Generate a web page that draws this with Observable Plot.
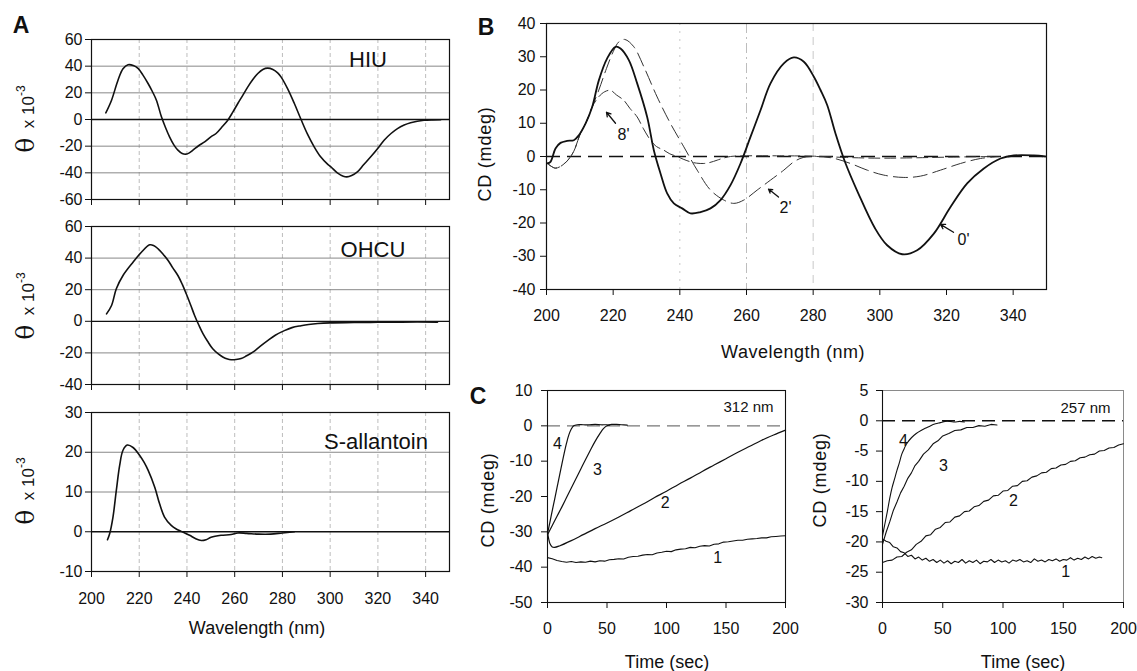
<!DOCTYPE html>
<html><head><meta charset="utf-8">
<script src="https://cdn.jsdelivr.net/npm/d3@7"></script>
<script src="https://cdn.jsdelivr.net/npm/@observablehq/plot@0.6"></script>
<style>
body{margin:0;background:#fff;}
#fig{position:relative;width:1137px;height:671px;overflow:hidden;font-family:"Liberation Sans",Arial,Helvetica,sans-serif;color:#111;background:#fff;}
.lbl{position:absolute;white-space:nowrap;line-height:1;transform:translate(-50%,-50%);}
.rot{transform:translate(-50%,-50%) rotate(-90deg);}
#fig svg{position:absolute;}
</style></head><body><div id="fig"></div>
<script>
// ---------- DATA ----------
// Panel A (molar ellipticity x 10^-3 vs wavelength)
const hiuWl = [206,208.4,211.1,213.2,215.3,217.5,219.5,221.5,223.7,225.5,227.2,229.3,231,232.7,234.5,236.2,238,239.5,241,242.5,245,247.4,250,252.2,254.5,257.1,259.2,261.3,263.5,265.5,267.6,269.7,271.8,273.8,276,278,279.4,282.2,285,287.8,290.5,293.3,296,298.9,300.3,303,305.5,307,309,311.4,314,317,320,322.6,325.5,328.2,331,333.7,336.5,339.3,343,346.3];
const hiuTheta = [5,14.5,29.5,38,41,40.5,38.3,33.5,27,21,14.5,2,-6,-13,-19,-23,-25.5,-26,-25,-23,-19.5,-16.8,-13,-10.5,-6,-0.5,5.5,12,18.5,24.5,30,34.5,37.5,38.5,37.5,35,32,23,12,0,-11,-20.5,-28,-33.5,-35.5,-40,-42.5,-43,-42,-39.3,-34,-28,-21.5,-15.5,-10.5,-6.8,-4.2,-2.5,-1.3,-0.6,-0.3,-0.2];
const ohcuWl = [206.3,208.4,210.4,213.2,217.4,220.9,224.4,226,227.9,230,232.1,234,236.2,238,239.7,241.5,243.2,245,246.7,248.7,250.8,253,255,257,258.5,260.5,262.7,265,267.6,270.5,273.8,277,280.8,284,287.8,291,294.8,300,310,320,330,345];
const ohcuTheta = [4.7,10,20.6,29,37.4,43.7,48.4,48,45.9,42.5,38.5,34,29,23.5,17.4,10.5,3.7,-2.5,-7.8,-12.8,-17.4,-20.5,-22.6,-23.9,-24.3,-24.2,-23.6,-21.8,-19.5,-16,-12.2,-8.8,-5.9,-4,-2.8,-2,-1.4,-1,-0.8,-0.6,-0.5,-0.5];
const sallWl = [206.7,207.6,209,210.4,211.8,213.2,215,217.4,220.2,222,223.7,226.5,228.5,230.6,233.4,235.5,237.6,241.1,243.5,246,248,250.1,254.3,258.5,261.3,265,270,275,280,285];
const sallTheta = [-2,-0.5,3.7,10.4,16.7,20.5,21.8,21.2,19.2,17.5,15.5,11.2,7.1,3.7,1.6,0.7,0.1,-0.9,-1.7,-2.2,-2,-1.4,-0.9,-0.7,-0.3,-0.4,-0.6,-0.6,-0.3,0];
const wlTicks = [200,220,240,260,280,300,320,340];
const hiuTicks = [-60,-40,-20,0,20,40,60];
const ohcuTicks = [-40,-20,0,20,40,60];
const sallTicks = [-10,0,10,20,30];
const panelANames = ["HIU","OHCU","S-allantoin"];

// Panel B (CD spectra at 0', 2', 8')
const b0Wl = [200.2,201.2,202.7,204.2,206.2,208.2,209.7,211.7,213.7,215.7,218.2,220.7,222.2,224.7,227.2,230.2,232.2,234.2,236.2,238.2,240.7,243.2,246.2,249.2,252.2,255.2,258.2,261.2,264.2,267.2,271.2,274.2,277.2,280.2,282.2,284.2,286.7,289.5,293.5,298.5,302.2,306.7,311.2,316.2,321.2,326.2,331.2,336.2,340.2,346.2,349.7];
const b0Cd = [-2.1,-1.6,2.4,4.1,4.7,4.9,6.4,9.9,14.9,22.9,29.5,33,32.5,29,22,11.9,1.9,-5.1,-11.1,-14.1,-15.6,-17.1,-16.7,-15.6,-13.1,-8.6,-2.1,5.9,13.9,22,28,29.8,28.5,24,20,15.5,6.9,-1.5,-11,-21.5,-26.7,-29.4,-28.2,-23.2,-15.2,-8.1,-3.6,-0.6,0.3,0.3,0];
const b2Wl = [200.2,201.5,202.7,204.2,205.5,206.5,208.2,210.2,212,213.7,215.7,218,220,221.7,223.5,226.2,229.2,233.2,237.2,241.2,245.2,249.2,253.2,256.2,259.2,263.2,267.2,271.2,274.2,277,281,286,291.2,296.2,301.2,307.2,312.2,318.2,324.2,330.2,336];
const b2Cd = [-2,-3,-3.5,-3,-2,-1,1.6,7,10.5,14.9,20,26.5,31.5,34.5,35.2,33,27,17.9,9.9,2.9,-4.1,-10.1,-13.1,-14.1,-13.1,-10.1,-7.1,-4.1,-1.6,-0.3,0,-0.5,-2.1,-4.1,-5.6,-6.3,-5.9,-4.1,-2.1,-0.6,0];
const b8Wl = [200.2,201.5,202.7,204.2,205.5,206.5,208.2,210.2,212,213.7,215.7,217.5,219.2,221,223.2,225,227.2,229,231.2,233,235.2,237,239.2,241,243.2,245,247.2,249,251.2,253,255.2,260,270,280,290,300,310,320,335];
const b8Cd = [-2,-3,-3.5,-3,-2,-1,1.6,7,10.5,14.9,18,19.5,19.9,18.5,16.9,14.5,11.9,8.5,4.9,3,1.9,0.8,0,-0.8,-1.6,-2,-2.1,-1.8,-1.1,-0.5,0,0.2,0.2,0.1,-0.3,-0.5,-0.4,-0.2,0];
const cdTicksB = [-40,-30,-20,-10,0,10,20,30,40];
const bLabels = ["8'","2'","0'"];
const bLabelWl = [223.1,271.7,325.1];
const bLabelCd = [6.4,-15.5,-25.2];
const bArrowFromWl = [220.7,269.6,322.1];
const bArrowFromCd = [10,-12.2,-22.8];
const bArrowToWl = [218,266.6,318.2];
const bArrowToCd = [13.3,-9.8,-20.4];

// Panel C left (312 nm kinetics)
const l4T = [0,2,4,6,8,10,12,14,16,18,20,22,25,30,35,40,45,50,52];
const l4Cd = [-30.5,-27.3,-24,-20.8,-17.5,-14.2,-11,-7.8,-4.9,-2.5,-0.9,0,0.3,0.3,0.3,0.4,0.3,0.3,0.2];
const l3T = [0,4,8,12,16,20,24,28,32,36,40,44,47,50,54,58,62,67];
const l3Cd = [-30.8,-28.2,-25.6,-23,-20.3,-17.6,-14.9,-12.2,-9.5,-6.9,-4.4,-2.2,-0.8,0,0.4,0.4,0.3,0.2];
const l2T = [0,1,2,4,6,10,20,30,40,50,60,70,80,90,100,110,120,130,140,150,160,170,180,190,200];
const l2Cd = [-30,-32,-33.3,-34.3,-34.4,-34,-32.5,-30.8,-29.1,-27.5,-25.8,-24,-22.2,-20.3,-18.5,-16.6,-14.8,-12.9,-11.1,-9.3,-7.5,-5.8,-4.1,-2.6,-1.2];
const l1T = [0,4,8,12,16,20,24,28,32,36,40,44,48,52,56,60,64,68,72,76,80,84,88,92,96,100,104,108,112,116,120,124,128,132,136,140,144,148,152,156,160,164,168,172,176,180,184,188,192,196,200];
const l1Cd = [-37.3,-37.6,-38.1,-38.4,-38.6,-38.4,-38.7,-38.5,-38.6,-38.3,-38.5,-38.2,-38.3,-37.9,-37.8,-37.6,-37.7,-37.2,-37,-36.9,-36.6,-36.4,-36.5,-36,-35.8,-35.5,-35.6,-35.1,-34.9,-34.8,-34.4,-34.5,-34.1,-33.9,-34,-33.5,-33.4,-32.9,-32.8,-32.6,-32.4,-32.4,-32.1,-32,-31.9,-31.7,-31.7,-31.4,-31.3,-31.2,-31.1];
const cTicksL = [-50,-40,-30,-20,-10,0,10];
const cLabelsL = ["4","3","2","1"];
const cLabelLT = [8.4,42,99,143];
const cLabelLCd = [-5,-12.6,-21.7,-37.5];

// Panel C right (257 nm kinetics)
const r4T = [0,2,4,6,8,10,12,14,16,18,20,24,28,32,36,40,44,48,52,56,60,64,68];
const r4Cd = [-19,-17,-15,-12.8,-11,-9.6,-8.2,-6.9,-5.5,-4.6,-3.8,-2.8,-2.1,-1.6,-1.2,-0.8,-0.5,-0.3,-0.1,-0.1,-0.2,-0.1,-0.2];
const r3T = [0,3,6,9,12,15,18,21,24,27,30,34,38,42,46,50,55,60,65,70,75,80,85,90,95];
const r3Cd = [-20.4,-18.4,-16.7,-14.8,-13.4,-11.9,-10.8,-9.5,-8.6,-7.4,-6.7,-5.5,-4.8,-3.8,-3.3,-2.5,-2.1,-1.6,-1.5,-1.1,-1.1,-0.8,-0.9,-0.6,-0.7];
const r2T = [0,4,8,12,16,20,24,28,32,36,40,44,48,52,56,60,64,68,72,76,80,84,88,92,96,100,104,108,112,116,120,124,128,132,136,140,144,148,152,156,160,164,168,172,176,180,184,188,192,196,200];
const r2Cd = [-23.4,-23.1,-23,-22.5,-22.4,-21.7,-21.3,-20.4,-19.9,-19,-18.8,-17.9,-17.6,-16.8,-16.7,-15.9,-15.7,-15,-14.9,-14.2,-14,-13.3,-13.1,-12.4,-12.3,-11.6,-11.5,-10.8,-10.7,-10,-9.9,-9.3,-9.1,-8.6,-8.5,-7.9,-7.8,-7.3,-7.2,-6.7,-6.6,-6.1,-6,-5.6,-5.5,-5,-4.9,-4.5,-4.4,-4,-3.8];
const r1T = [0,3,6,9,12,15,18,21,24,27,30,33,36,39,42,45,48,51,54,57,60,63,66,69,72,75,78,81,84,87,90,93,96,99,102,105,108,111,114,117,120,123,126,129,132,135,138,141,144,147,150,153,156,159,162,165,168,171,174,177,180,182];
const r1Cd = [-19.5,-19.9,-20.1,-20.8,-21,-21.6,-21.8,-22.4,-22.2,-22.8,-22.5,-23,-22.7,-23.2,-22.9,-23.4,-23,-23.5,-23.1,-23.6,-23.2,-23.4,-22.9,-23.5,-23.1,-23.4,-23,-23.6,-23.2,-23.3,-22.9,-23.4,-23,-23.3,-23.1,-23.5,-23,-23.2,-22.9,-23.3,-23.1,-23.4,-22.8,-23.2,-23,-23.3,-22.9,-23.1,-22.8,-23.2,-22.9,-23,-22.6,-23,-22.7,-22.9,-22.5,-22.8,-22.4,-22.7,-22.5,-22.6];
const cTicksR = [-30,-25,-20,-15,-10,-5,0,5];
const cLabelsR = ["4","3","2","1"];
const cLabelRT = [17.4,50.6,108.7,152];
const cLabelRCd = [-3.3,-7.4,-13.2,-25];
const timeTicks = [0,50,100,150,200];

// ---------- DRAWING ----------
const fig = document.getElementById("fig");
const FONT = '"Liberation Sans", Arial, Helvetica, sans-serif';
const ML = 60, MR = 12, MT = 12, MB = 50;
const pts = (xs, ys) => xs.map((x, i) => ({x, y: ys[i]}));
const fmt = d => String(d);

function place(fx, fy, fw, fh, opts) {
  const p = Plot.plot({
    width: fw + ML + MR, height: fh + MT + MB,
    marginLeft: ML, marginRight: MR, marginTop: MT, marginBottom: MB,
    ...opts
  });
  p.style.left = (fx - ML) + "px";
  p.style.top = (fy - MT) + "px";
  p.style.background = "transparent";
  p.style.maxWidth = "none";
  p.style.overflow = "visible";
  p.style.fontFamily = FONT;
  p.style.fontSize = "16px";
  p.style.color = "#111";
  fig.appendChild(p);
  return p;
}
function label(html, x, y, css = "", rot = false) {
  const d = document.createElement("div");
  d.className = "lbl" + (rot ? " rot" : "");
  d.style.cssText = `left:${x}px;top:${y}px;` + css;
  d.innerHTML = html;
  fig.appendChild(d);
}

// Panel A
const aFrames = [[39, 160], [226, 158], [412, 159]];
const aTicks = [hiuTicks, ohcuTicks, sallTicks];
const aDomains = [[-60, 60], [-40, 60], [-10, 30]];
const aData = [pts(hiuWl, hiuTheta), pts(ohcuWl, ohcuTheta), pts(sallWl, sallTheta)];
aFrames.forEach(([fy, fh], i) => {
  const last = i === 2;
  place(91, fy, 358, fh, {
    x: {domain: [200, 350]},
    y: {domain: aDomains[i]},
    marks: [
      Plot.ruleX(wlTicks.slice(1), {stroke: "#b5b5b5", strokeDasharray: "4,3", strokeWidth: 0.9}),
      Plot.ruleY(aTicks[i].filter(v => v !== 0), {stroke: "#7a7a7a", strokeWidth: 0.9}),
      Plot.ruleY([0], {stroke: "#111", strokeWidth: 1.3}),
      Plot.frame({stroke: "#111", strokeWidth: 1.2}),
      Plot.axisY(aTicks[i], {tickSize: 6, tickPadding: 3, tickFormat: fmt, label: null}),
      Plot.axisX(wlTicks, {tickSize: 6, tickPadding: 15, tickFormat: last ? fmt : () => "", label: null}),
      Plot.line(aData[i], {x: "x", y: "y", curve: "catmull-rom", stroke: "#111", strokeWidth: 1.6})
    ]
  });
});
const aNamePos = [[368, 60], [373, 250], [376, 442]];
panelANames.forEach((n, i) => label(n, aNamePos[i][0], aNamePos[i][1], "font-size:22px;"));
const thetaLbl = '<span style="font-size:25px;font-family:\'DejaVu Serif\',serif;">&#952;</span>&nbsp; x 10<sup style="font-size:12px;position:relative;top:-2px;">-3</sup>';
[119, 306, 491].forEach(y => label(thetaLbl, 25, y, "font-size:17px;", true));
label("Wavelength (nm)", 257, 628, "font-size:18px;");
label("A", 21, 25, "font-size:23px;font-weight:bold;");

// Panel B
place(546, 23, 500, 266, {
  x: {domain: [200, 350]},
  y: {domain: [-40, 40]},
  marks: [
    Plot.ruleX([240], {stroke: "#c8c8c8", strokeDasharray: "2,6"}),
    Plot.ruleX([260], {stroke: "#bdbdbd", strokeDasharray: "10,4,2,4"}),
    Plot.ruleX([280], {stroke: "#c8c8c8", strokeDasharray: "8,6"}),
    Plot.ruleY([0], {stroke: "#111", strokeDasharray: "14,7", strokeWidth: 1.5}),
    Plot.frame({stroke: "#111", strokeWidth: 1.2}),
    Plot.axisY(cdTicksB, {tickSize: 6, tickPadding: 5, tickFormat: fmt, label: null}),
    Plot.axisX(wlTicks, {tickSize: 6, tickPadding: 14, tickFormat: fmt, label: null}),
    Plot.line(pts(b8Wl, b8Cd), {x: "x", y: "y", curve: "catmull-rom", stroke: "#333", strokeWidth: 1, strokeDasharray: "11,5"}),
    Plot.line(pts(b2Wl, b2Cd), {x: "x", y: "y", curve: "catmull-rom", stroke: "#333", strokeWidth: 1, strokeDasharray: "14,6"}),
    Plot.line(pts(b0Wl, b0Cd), {x: "x", y: "y", curve: "catmull-rom", stroke: "#111", strokeWidth: 1.8}),
    Plot.arrow(bLabels.map((l, i) => i), {x1: i => bArrowFromWl[i], y1: i => bArrowFromCd[i], x2: i => bArrowToWl[i], y2: i => bArrowToCd[i], stroke: "#111", strokeWidth: 1.3, headLength: 7}),
    Plot.text(bLabels.map((l, i) => i), {x: i => bLabelWl[i], y: i => bLabelCd[i], text: i => bLabels[i], fontSize: 16, fill: "#111"})
  ]
});
label("CD (mdeg)", 485, 154, "font-size:18px;letter-spacing:0.8px;", true);
label("Wavelength (nm)", 793, 352, "font-size:18px;letter-spacing:0.5px;");
label("B", 486, 27, "font-size:23px;font-weight:bold;");

// Panel C left
place(547, 390, 238, 212, {
  x: {domain: [0, 200]},
  y: {domain: [-50, 10]},
  marks: [
    Plot.ruleY([0], {stroke: "#777", strokeDasharray: "13,7", strokeWidth: 1.3}),
    Plot.frame({stroke: "#111", strokeWidth: 1.1}),
    Plot.axisY(cTicksL, {tickSize: 6, tickPadding: 9, tickFormat: fmt, label: null}),
    Plot.axisX(timeTicks, {tickSize: 6, tickPadding: 14, tickFormat: fmt, label: null}),
    Plot.line(pts(l1T, l1Cd), {x: "x", y: "y", stroke: "#111", strokeWidth: 1.1}),
    Plot.line(pts(l2T, l2Cd), {x: "x", y: "y", curve: "catmull-rom", stroke: "#111", strokeWidth: 1.2}),
    Plot.line(pts(l3T, l3Cd), {x: "x", y: "y", curve: "catmull-rom", stroke: "#111", strokeWidth: 1.2}),
    Plot.line(pts(l4T, l4Cd), {x: "x", y: "y", curve: "catmull-rom", stroke: "#111", strokeWidth: 1.2}),
    Plot.text(cLabelsL.map((l, i) => i), {x: i => cLabelLT[i], y: i => cLabelLCd[i], text: i => cLabelsL[i], fontSize: 16, fill: "#111"}),
    Plot.text(["312 nm"], {frameAnchor: "top-right", dx: -12, dy: 11, text: d => d, fontSize: 15, fill: "#111"})
  ]
});
label("CD (mdeg)", 488, 500, "font-size:18px;letter-spacing:0.8px;", true);
label("Time (sec)", 667, 662, "font-size:18px;");
label("C", 478, 396, "font-size:23px;font-weight:bold;");

// Panel C right
place(882, 390, 241, 212, {
  x: {domain: [0, 200]},
  y: {domain: [-30, 5]},
  marks: [
    Plot.ruleY([0], {stroke: "#111", strokeDasharray: "13,7", strokeWidth: 1.4}),
    Plot.frame({stroke: "#8a8a8a", strokeWidth: 1}),
    Plot.ruleX([0], {stroke: "#111", strokeWidth: 1.1}),
    Plot.ruleY([-30], {stroke: "#111", strokeWidth: 1.1}),
    Plot.axisY(cTicksR, {tickSize: 6, tickPadding: 8, tickFormat: fmt, label: null}),
    Plot.axisX(timeTicks, {tickSize: 6, tickPadding: 14, tickFormat: fmt, label: null}),
    Plot.line(pts(r1T, r1Cd), {x: "x", y: "y", stroke: "#111", strokeWidth: 1.1}),
    Plot.line(pts(r2T, r2Cd), {x: "x", y: "y", stroke: "#111", strokeWidth: 1.1}),
    Plot.line(pts(r3T, r3Cd), {x: "x", y: "y", stroke: "#111", strokeWidth: 1.1}),
    Plot.line(pts(r4T, r4Cd), {x: "x", y: "y", curve: "catmull-rom", stroke: "#111", strokeWidth: 1.1}),
    Plot.text(cLabelsR.map((l, i) => i), {x: i => cLabelRT[i], y: i => cLabelRCd[i], text: i => cLabelsR[i], fontSize: 16, fill: "#111"}),
    Plot.text(["257 nm"], {frameAnchor: "top-right", dx: -13, dy: 12, text: d => d, fontSize: 15, fill: "#111"})
  ]
});
label("CD (mdeg)", 820, 480, "font-size:18px;letter-spacing:0.8px;", true);
label("Time (sec)", 1023, 662, "font-size:18px;");
</script>
</body></html>
